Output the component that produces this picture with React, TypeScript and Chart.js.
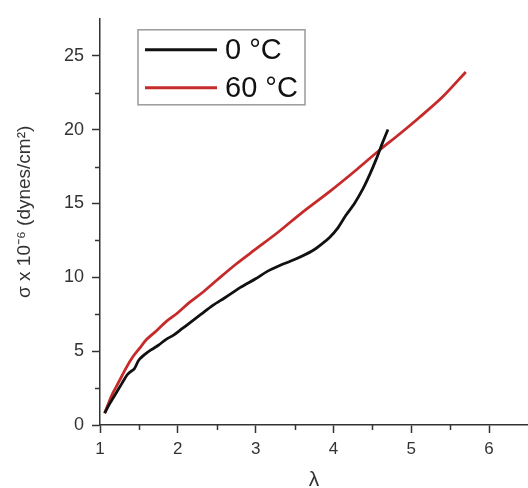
import React, { useEffect, useRef } from "react";
import { Chart, registerables } from "chart.js";

Chart.register(...registerables);

const seriesLabels = ["0 °C", "60 °C"];
const seriesColors = ["#111111", "#c62a2a"];
const yTitleText = "σ x 10⁻⁶ (dynes/cm²)";
const xTitleText = "λ";

const black0X = [1.06, 1.12, 1.2, 1.28, 1.35, 1.39, 1.44, 1.5, 1.58, 1.66, 1.75, 1.85, 1.95, 2.05, 2.15, 2.3, 2.45, 2.6, 2.8, 3.0, 3.15, 3.31, 3.5, 3.73, 3.86, 3.95, 4.05, 4.16, 4.27, 4.38, 4.47, 4.55, 4.63, 4.7];
const black0Y = [0.8, 1.4, 2.1, 2.8, 3.4, 3.6, 3.8, 4.4, 4.8, 5.1, 5.4, 5.8, 6.1, 6.5, 6.9, 7.5, 8.1, 8.6, 9.3, 9.9, 10.4, 10.8, 11.2, 11.8, 12.3, 12.7, 13.3, 14.2, 15.0, 16.0, 17.0, 18.0, 19.1, 20.0];

const red60X = [1.06, 1.15, 1.25, 1.34, 1.42, 1.51, 1.6, 1.73, 1.85, 2.0, 2.15, 2.3, 2.5, 2.75, 3.0, 3.3, 3.6, 3.95, 4.3, 4.59, 4.85, 5.1, 5.4, 5.7];
const red60Y = [0.8, 2.0, 3.0, 3.9, 4.6, 5.2, 5.8, 6.4, 7.0, 7.6, 8.3, 8.9, 9.8, 10.9, 11.9, 13.1, 14.4, 15.8, 17.3, 18.6, 19.7, 20.8, 22.2, 23.9];

const xMajorTicks = [1, 2, 3, 4, 5, 6];
const xMinorTicks = [1.5, 2.5, 3.5, 4.5, 5.5];
const yMajorTicks = [0, 5, 10, 15, 20, 25];
const yMinorTicks = [2.5, 7.5, 12.5, 17.5, 22.5];

const FONT = "'Liberation Sans', Arial, sans-serif";

const minorTicksPlugin = {
  id: "minorTicks",
  afterDraw(chart: any) {
    const ctx = chart.ctx;
    const xs = chart.scales.x;
    const ys = chart.scales.y;
    const area = chart.chartArea;
    ctx.save();
    ctx.strokeStyle = "#333333";
    ctx.lineWidth = 1.5;
    ctx.beginPath();
    xMinorTicks.forEach((v) => {
      const px = Math.round(xs.getPixelForValue(v)) + 0.5;
      ctx.moveTo(px, area.bottom);
      ctx.lineTo(px, area.bottom + 5);
    });
    yMinorTicks.forEach((v) => {
      const py = Math.round(ys.getPixelForValue(v)) + 0.5;
      ctx.moveTo(area.left - 5, py);
      ctx.lineTo(area.left, py);
    });
    ctx.stroke();
    ctx.restore();
  },
};

const axisTitlePlugin = {
  id: "axisTitles",
  afterDraw(chart: any) {
    const ctx = chart.ctx;
    const area = chart.chartArea;
    ctx.save();
    ctx.fillStyle = "#333333";
    ctx.textAlign = "center";
    ctx.textBaseline = "middle";
    ctx.font = `19px ${FONT}`;
    ctx.translate(25, area.top + 193);
    ctx.rotate(-Math.PI / 2);
    ctx.fillText(yTitleText, 0, 0);
    ctx.restore();
    ctx.save();
    ctx.fillStyle = "#333333";
    ctx.textAlign = "center";
    ctx.textBaseline = "middle";
    ctx.font = `21px ${FONT}`;
    ctx.fillText(xTitleText, (area.left + area.right) / 2, area.bottom + 55);
    ctx.restore();
  },
};

const legendBoxPlugin = {
  id: "legendBox",
  afterDraw(chart: any) {
    const ctx = chart.ctx;
    const area = chart.chartArea;
    const bx = area.left + 38;
    const by = area.top + 11;
    const bw = 167;
    const bh = 75;
    ctx.save();
    ctx.strokeStyle = "#9a9a9a";
    ctx.lineWidth = 1.5;
    ctx.strokeRect(bx, by, bw, bh);
    chart.data.datasets.forEach((ds: any, i: number) => {
      const ly = by + 20 + i * 38;
      ctx.strokeStyle = ds.borderColor;
      ctx.lineWidth = 3;
      ctx.beginPath();
      ctx.moveTo(bx + 7, ly);
      ctx.lineTo(bx + 79, ly);
      ctx.stroke();
      ctx.fillStyle = "#111111";
      ctx.font = `29px ${FONT}`;
      ctx.textBaseline = "middle";
      ctx.textAlign = "left";
      ctx.fillText(ds.label, bx + 87, ly + 1);
    });
    ctx.restore();
  },
};

export default function App() {
  const canvasRef = useRef<HTMLCanvasElement | null>(null);

  useEffect(() => {
    if (!canvasRef.current) return;
    const chart = new Chart(canvasRef.current, {
      type: "scatter",
      data: {
        datasets: [
          {
            label: seriesLabels[0],
            data: black0X.map((x, i) => ({ x, y: black0Y[i] })),
            borderColor: seriesColors[0],
            backgroundColor: seriesColors[0],
            showLine: true,
            pointRadius: 0,
            borderWidth: 2.8,
            tension: 0.3,
          },
          {
            label: seriesLabels[1],
            data: red60X.map((x, i) => ({ x, y: red60Y[i] })),
            borderColor: seriesColors[1],
            backgroundColor: seriesColors[1],
            showLine: true,
            pointRadius: 0,
            borderWidth: 2.8,
            tension: 0.3,
          },
        ],
      },
      options: {
        animation: false,
        responsive: true,
        maintainAspectRatio: false,
        layout: { padding: { top: 12, right: 0, left: 0, bottom: 0 } },
        plugins: {
          legend: { display: false },
          tooltip: { enabled: false },
        },
        scales: {
          x: {
            type: "linear",
            min: 1,
            max: 6.5,
            afterFit: (s: any) => {
              s.height = 63;
            },
            afterBuildTicks: (s: any) => {
              s.ticks = xMajorTicks.map((v) => ({ value: v }));
            },
            border: { display: true, color: "#333333", width: 1.5 },
            grid: {
              drawOnChartArea: false,
              drawTicks: true,
              tickLength: 8,
              tickColor: "#333333",
              tickWidth: 1.5,
            },
            ticks: {
              color: "#333333",
              padding: 6,
              font: { family: FONT, size: 17 },
              callback: (v: any) => String(v),
            },
            title: { display: false },
          },
          y: {
            type: "linear",
            min: 0,
            max: 27.5,
            afterFit: (s: any) => {
              s.width = 100;
            },
            afterBuildTicks: (s: any) => {
              s.ticks = yMajorTicks.map((v) => ({ value: v }));
            },
            border: { display: true, color: "#333333", width: 1.5 },
            grid: {
              drawOnChartArea: false,
              drawTicks: true,
              tickLength: 8,
              tickColor: "#333333",
              tickWidth: 1.5,
            },
            ticks: {
              color: "#333333",
              padding: 8,
              font: { family: FONT, size: 18 },
              callback: (v: any) => String(v),
            },
            title: { display: false },
          },
        },
      },
      plugins: [minorTicksPlugin, axisTitlePlugin, legendBoxPlugin],
    });
    return () => chart.destroy();
  }, []);

  return (
    <div style={{ position: "fixed", left: 0, top: 0, width: 528, height: 488, background: "#ffffff" }}>
      <canvas ref={canvasRef} />
    </div>
  );
}
